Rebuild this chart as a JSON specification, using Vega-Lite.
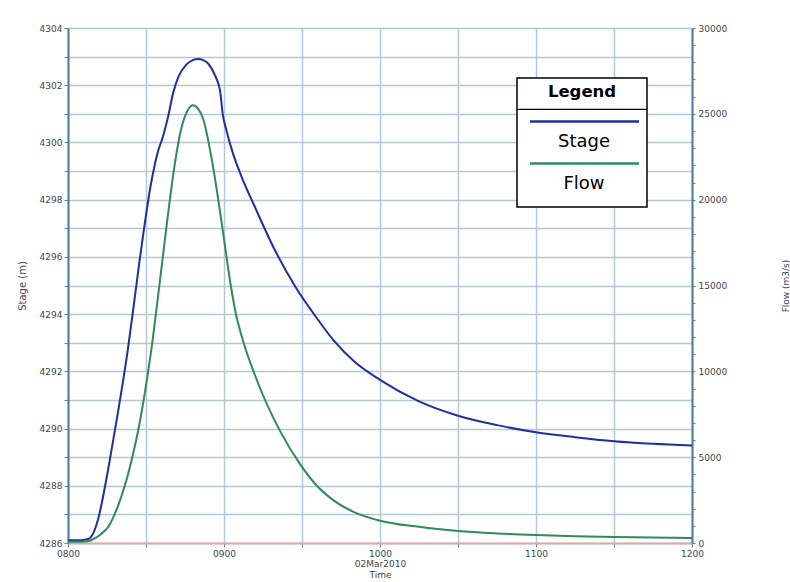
{
  "$schema": "https://vega.github.io/schema/vega-lite/v6.json",
  "width": 624,
  "height": 515,
  "autosize": {"type": "none"},
  "padding": {"left": 68, "top": 28, "right": 98, "bottom": 39},
  "background": "white",
  "config": {
    "view": {"stroke": null},
    "font": "DejaVu Sans",
    "axis": {
      "labelFont": "DejaVu Sans",
      "labelFontSize": 9,
      "labelColor": "#3c4650",
      "titleFont": "DejaVu Sans",
      "titleFontWeight": "normal",
      "titleColor": "#3c4650",
      "labelFlush": false,
      "labelOverlap": false,
      "gridColor": "#b4c7d4",
      "gridWidth": 1.5,
      "gridOpacity": 1,
      "tickColor": "#5f8599",
      "tickSize": 4,
      "tickWidth": 1,
      "domainColor": "#4f7d96",
      "domainWidth": 2
    }
  },
  "data": {
    "values": [
      {"time": "2010/03/02 08:00:00", "series": "Stage", "value": 4286.1},
      {"time": "2010/03/02 08:05:00", "series": "Stage", "value": 4286.1},
      {"time": "2010/03/02 08:08:00", "series": "Stage", "value": 4286.15},
      {"time": "2010/03/02 08:10:00", "series": "Stage", "value": 4286.4},
      {"time": "2010/03/02 08:11:30", "series": "Stage", "value": 4286.8},
      {"time": "2010/03/02 08:13:00", "series": "Stage", "value": 4287.4},
      {"time": "2010/03/02 08:15:30", "series": "Stage", "value": 4288.6},
      {"time": "2010/03/02 08:19:00", "series": "Stage", "value": 4290.45},
      {"time": "2010/03/02 08:23:00", "series": "Stage", "value": 4292.75},
      {"time": "2010/03/02 08:25:30", "series": "Stage", "value": 4294.45},
      {"time": "2010/03/02 08:27:30", "series": "Stage", "value": 4295.85},
      {"time": "2010/03/02 08:29:30", "series": "Stage", "value": 4297.15},
      {"time": "2010/03/02 08:32:00", "series": "Stage", "value": 4298.6},
      {"time": "2010/03/02 08:34:30", "series": "Stage", "value": 4299.65},
      {"time": "2010/03/02 08:36:30", "series": "Stage", "value": 4300.2},
      {"time": "2010/03/02 08:38:30", "series": "Stage", "value": 4300.9},
      {"time": "2010/03/02 08:40:30", "series": "Stage", "value": 4301.75},
      {"time": "2010/03/02 08:42:30", "series": "Stage", "value": 4302.3},
      {"time": "2010/03/02 08:45:30", "series": "Stage", "value": 4302.72},
      {"time": "2010/03/02 08:48:00", "series": "Stage", "value": 4302.88},
      {"time": "2010/03/02 08:50:00", "series": "Stage", "value": 4302.92},
      {"time": "2010/03/02 08:52:00", "series": "Stage", "value": 4302.88},
      {"time": "2010/03/02 08:54:00", "series": "Stage", "value": 4302.75},
      {"time": "2010/03/02 08:56:30", "series": "Stage", "value": 4302.35},
      {"time": "2010/03/02 08:58:30", "series": "Stage", "value": 4301.8},
      {"time": "2010/03/02 08:59:30", "series": "Stage", "value": 4301.0},
      {"time": "2010/03/02 09:01:00", "series": "Stage", "value": 4300.4},
      {"time": "2010/03/02 09:03:30", "series": "Stage", "value": 4299.6},
      {"time": "2010/03/02 09:06:30", "series": "Stage", "value": 4298.86},
      {"time": "2010/03/02 09:12:00", "series": "Stage", "value": 4297.72},
      {"time": "2010/03/02 09:19:30", "series": "Stage", "value": 4296.25},
      {"time": "2010/03/02 09:27:30", "series": "Stage", "value": 4294.95},
      {"time": "2010/03/02 09:35:00", "series": "Stage", "value": 4293.95},
      {"time": "2010/03/02 09:42:00", "series": "Stage", "value": 4293.1},
      {"time": "2010/03/02 09:50:00", "series": "Stage", "value": 4292.35},
      {"time": "2010/03/02 10:00:00", "series": "Stage", "value": 4291.7},
      {"time": "2010/03/02 10:15:00", "series": "Stage", "value": 4290.95},
      {"time": "2010/03/02 10:30:00", "series": "Stage", "value": 4290.45},
      {"time": "2010/03/02 10:45:00", "series": "Stage", "value": 4290.12},
      {"time": "2010/03/02 11:00:00", "series": "Stage", "value": 4289.87},
      {"time": "2010/03/02 11:15:00", "series": "Stage", "value": 4289.7},
      {"time": "2010/03/02 11:30:00", "series": "Stage", "value": 4289.56},
      {"time": "2010/03/02 11:45:00", "series": "Stage", "value": 4289.47},
      {"time": "2010/03/02 12:00:00", "series": "Stage", "value": 4289.41},
      {"time": "2010/03/02 08:00:00", "series": "Flow", "value": 80},
      {"time": "2010/03/02 08:05:00", "series": "Flow", "value": 80},
      {"time": "2010/03/02 08:08:00", "series": "Flow", "value": 120},
      {"time": "2010/03/02 08:10:00", "series": "Flow", "value": 250},
      {"time": "2010/03/02 08:12:30", "series": "Flow", "value": 500},
      {"time": "2010/03/02 08:15:30", "series": "Flow", "value": 950},
      {"time": "2010/03/02 08:18:00", "series": "Flow", "value": 1700},
      {"time": "2010/03/02 08:20:30", "series": "Flow", "value": 2700},
      {"time": "2010/03/02 08:23:00", "series": "Flow", "value": 3950},
      {"time": "2010/03/02 08:25:30", "series": "Flow", "value": 5500},
      {"time": "2010/03/02 08:27:30", "series": "Flow", "value": 6950},
      {"time": "2010/03/02 08:29:30", "series": "Flow", "value": 8700},
      {"time": "2010/03/02 08:32:00", "series": "Flow", "value": 11200},
      {"time": "2010/03/02 08:34:30", "series": "Flow", "value": 14200},
      {"time": "2010/03/02 08:36:30", "series": "Flow", "value": 16700},
      {"time": "2010/03/02 08:38:30", "series": "Flow", "value": 19200},
      {"time": "2010/03/02 08:41:00", "series": "Flow", "value": 22000},
      {"time": "2010/03/02 08:43:30", "series": "Flow", "value": 24100},
      {"time": "2010/03/02 08:46:00", "series": "Flow", "value": 25200},
      {"time": "2010/03/02 08:48:00", "series": "Flow", "value": 25500},
      {"time": "2010/03/02 08:50:00", "series": "Flow", "value": 25300},
      {"time": "2010/03/02 08:52:00", "series": "Flow", "value": 24700},
      {"time": "2010/03/02 08:55:00", "series": "Flow", "value": 22600},
      {"time": "2010/03/02 08:57:30", "series": "Flow", "value": 20300},
      {"time": "2010/03/02 09:00:00", "series": "Flow", "value": 17700},
      {"time": "2010/03/02 09:02:30", "series": "Flow", "value": 15100},
      {"time": "2010/03/02 09:04:30", "series": "Flow", "value": 13400},
      {"time": "2010/03/02 09:06:30", "series": "Flow", "value": 12200},
      {"time": "2010/03/02 09:13:00", "series": "Flow", "value": 9350},
      {"time": "2010/03/02 09:22:00", "series": "Flow", "value": 6400},
      {"time": "2010/03/02 09:29:00", "series": "Flow", "value": 4650},
      {"time": "2010/03/02 09:35:00", "series": "Flow", "value": 3450},
      {"time": "2010/03/02 09:42:00", "series": "Flow", "value": 2500},
      {"time": "2010/03/02 09:50:00", "series": "Flow", "value": 1800},
      {"time": "2010/03/02 10:00:00", "series": "Flow", "value": 1300},
      {"time": "2010/03/02 10:15:00", "series": "Flow", "value": 940},
      {"time": "2010/03/02 10:30:00", "series": "Flow", "value": 700},
      {"time": "2010/03/02 10:45:00", "series": "Flow", "value": 560},
      {"time": "2010/03/02 11:00:00", "series": "Flow", "value": 466},
      {"time": "2010/03/02 11:15:00", "series": "Flow", "value": 400},
      {"time": "2010/03/02 11:30:00", "series": "Flow", "value": 350},
      {"time": "2010/03/02 11:45:00", "series": "Flow", "value": 315},
      {"time": "2010/03/02 12:00:00", "series": "Flow", "value": 290}
    ]
  },
  "encoding": {
    "x": {
      "field": "time",
      "type": "temporal",
      "scale": {
        "domain": [
          {"year": 2010, "month": 3, "date": 2, "hours": 8, "minutes": 0},
          {"year": 2010, "month": 3, "date": 2, "hours": 12, "minutes": 0}
        ],
        "nice": false
      },
      "axis": {
        "values": [
          {"year": 2010, "month": 3, "date": 2, "hours": 8, "minutes": 0},
          {"year": 2010, "month": 3, "date": 2, "hours": 8, "minutes": 30},
          {"year": 2010, "month": 3, "date": 2, "hours": 9, "minutes": 0},
          {"year": 2010, "month": 3, "date": 2, "hours": 9, "minutes": 30},
          {"year": 2010, "month": 3, "date": 2, "hours": 10, "minutes": 0},
          {"year": 2010, "month": 3, "date": 2, "hours": 10, "minutes": 30},
          {"year": 2010, "month": 3, "date": 2, "hours": 11, "minutes": 0},
          {"year": 2010, "month": 3, "date": 2, "hours": 11, "minutes": 30},
          {"year": 2010, "month": 3, "date": 2, "hours": 12, "minutes": 0}
        ],
        "labelExpr": "minutes(datum.value) == 0 ? timeFormat(datum.value, '%H%M') : ''",
        "title": ["02Mar2010", "Time"],
        "titleFontSize": 9,
        "titleLineHeight": 11,
        "titlePadding": 1,
        "labelPadding": 2,
        "grid": true,
        "domainColor": "#e3a79e",
        "domainWidth": 2
      }
    },
    "color": {
      "field": "series",
      "type": "nominal",
      "scale": {"domain": ["Stage", "Flow"], "range": ["#1f2f9e", "#2f8a5c"]},
      "legend": {
        "orient": "none",
        "legendX": 449,
        "legendY": 50,
        "title": ["Legend", "─────────────"],
        "titleFont": "DejaVu Sans",
        "titleFontSize": 16.5,
        "titleFontWeight": "bold",
        "titleLineHeight": 18,
        "titleColor": "black",
        "titleAnchor": "middle",
        "titlePadding": 0,
        "strokeColor": "black",
        "fillColor": "white",
        "padding": 0,
        "symbolType": "stroke",
        "symbolStrokeWidth": 2.5,
        "symbolSize": 100,
        "labelFont": "DejaVu Sans",
        "labelFontSize": 18,
        "labelColor": "black",
        "labelAlign": "center",
        "labelBaseline": "alphabetic",
        "labelExpr": "datum.label == 'Flow' ? ['Flow', ' '] : datum.label",
        "rowPadding": 4,
        "encode": {
          "symbols": {"update": {"x": {"value": 65.5}, "y": {"value": 9}, "size": {"value": 11881}}},
          "labels": {"update": {"x": {"value": 65}, "y": {"value": 34}, "lineHeight": {"value": 14}}},
          "title": {"update": {"dy": {"value": 5.5}}},
          "legend": {"update": {"strokeWidth": {"value": 1.5}}}
        }
      }
    }
  },
  "layer": [
    {
      "transform": [{"filter": "datum.series == 'Stage'"}],
      "mark": {"type": "line", "interpolate": "monotone", "strokeWidth": 2},
      "encoding": {
        "y": {
          "field": "value",
          "type": "quantitative",
          "scale": {"domain": [4286, 4304], "nice": false, "zero": false},
          "axis": {
            "orient": "left",
            "values": [4286, 4287, 4288, 4289, 4290, 4291, 4292, 4293, 4294, 4295, 4296, 4297, 4298, 4299, 4300, 4301, 4302, 4303, 4304],
            "labelExpr": "datum.value % 2 == 0 ? datum.label : ''",
            "format": "d",
            "grid": true,
            "labelPadding": 2,
            "title": "Stage (m)",
            "titleFontSize": 10,
            "titlePadding": 12
          }
        }
      }
    },
    {
      "transform": [{"filter": "datum.series == 'Flow'"}],
      "mark": {"type": "line", "interpolate": "monotone", "strokeWidth": 2},
      "encoding": {
        "y": {
          "field": "value",
          "type": "quantitative",
          "scale": {"domain": [0, 30000], "nice": false},
          "axis": {
            "orient": "right",
            "values": [0, 1000, 2000, 3000, 4000, 5000, 6000, 7000, 8000, 9000, 10000, 11000, 12000, 13000, 14000, 15000, 16000, 17000, 18000, 19000, 20000, 21000, 22000, 23000, 24000, 25000, 26000, 27000, 28000, 29000, 30000],
            "labelExpr": "datum.value % 5000 == 0 ? datum.label : ''",
            "format": "d",
            "grid": false,
            "tickSize": 3,
            "labelPadding": 3,
            "title": "Flow (m3/s)",
            "titleAngle": 270,
            "titleFontSize": 9,
            "titlePadding": 64
          }
        }
      }
    }
  ],
  "resolve": {"scale": {"y": "independent"}}
}
